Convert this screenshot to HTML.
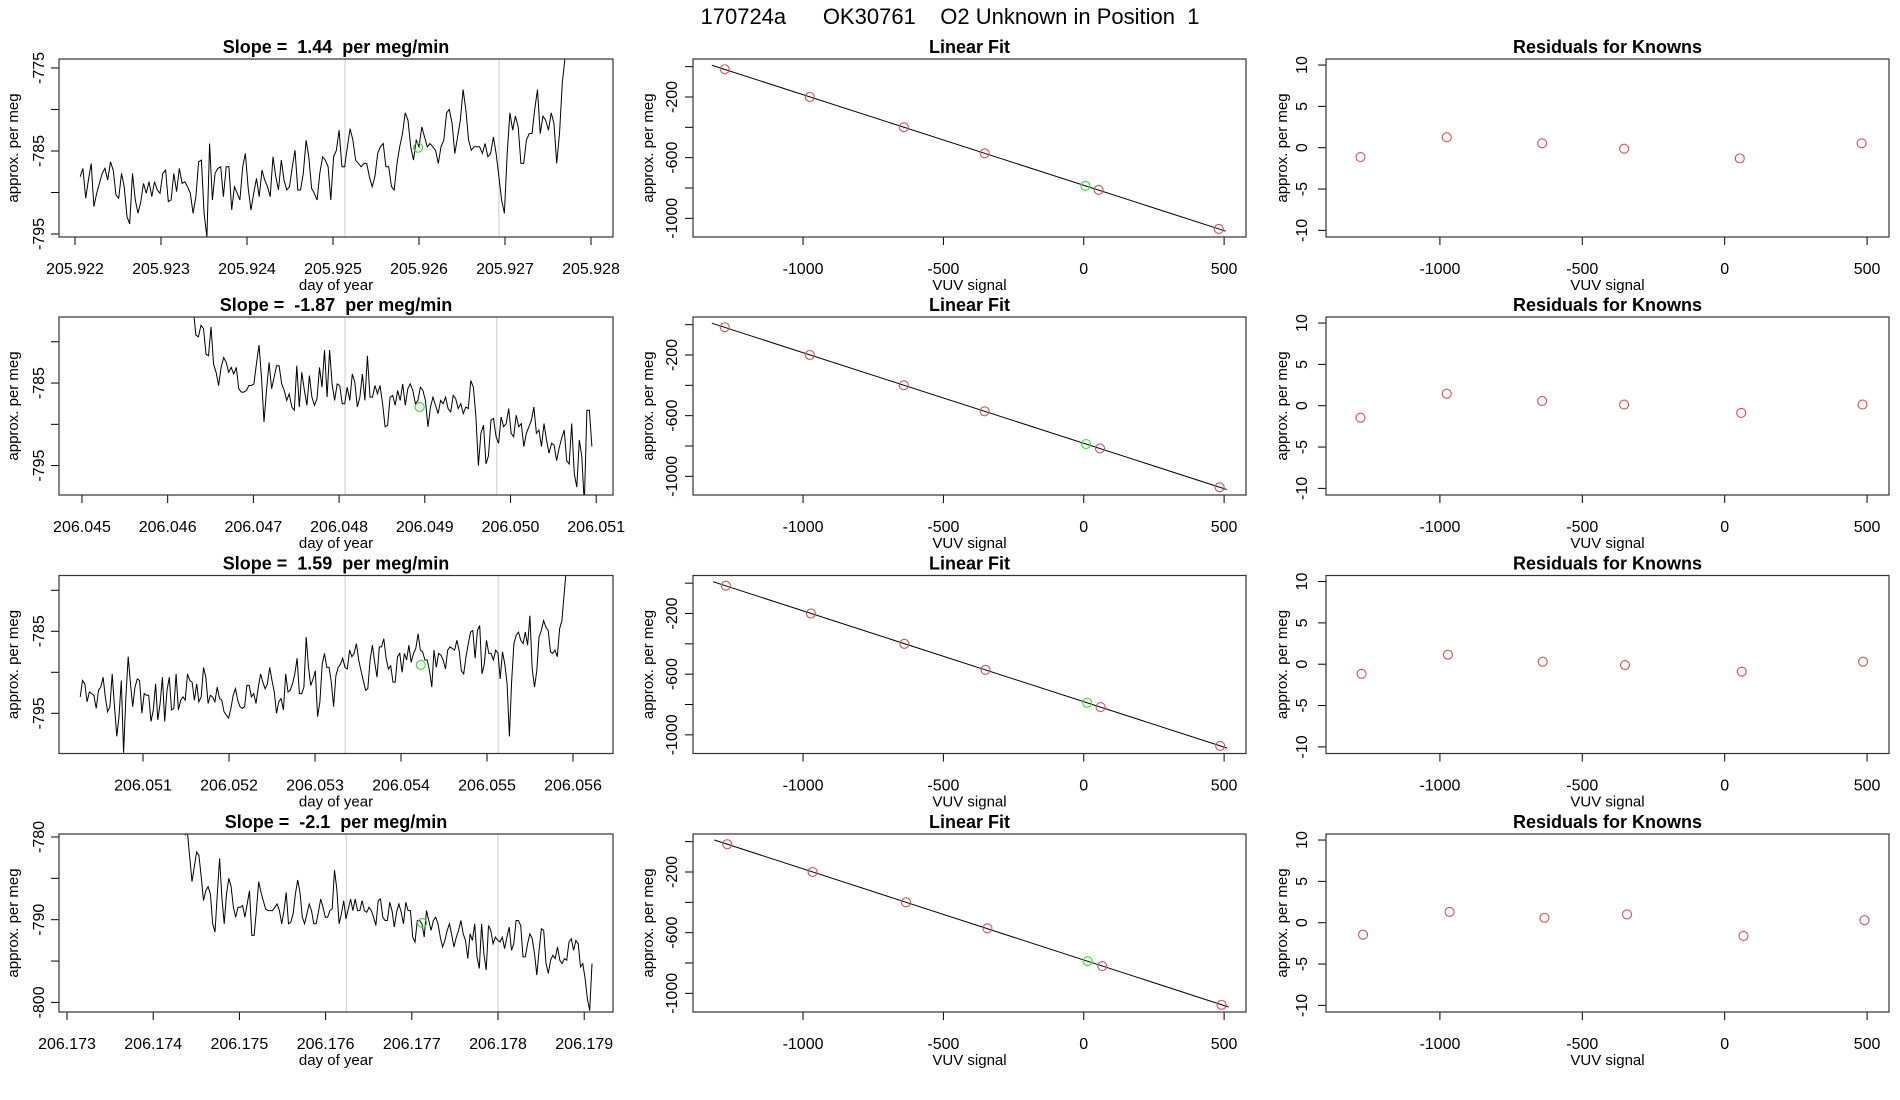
<!DOCTYPE html>
<html><head><meta charset="utf-8"><style>
html,body{margin:0;padding:0;background:#fff;}
svg{display:block;font-family:"Liberation Sans",Arial,sans-serif;}
svg text{white-space:pre;}
</style></head><body>
<svg id="fig" width="1900" height="1100" viewBox="0 0 1900 1100" xmlns="http://www.w3.org/2000/svg" xml:space="preserve">
<rect width="1900" height="1100" fill="#fff"/>
<text x="950" y="24" font-size="22" text-anchor="middle" xml:space="preserve">170724a      OK30761    O2 Unknown in Position  1</text>
</svg>
<script>
// ---------- data ----------
const slopes = ["1.44", "-1.87", "1.59", "-2.1"];
const seriesStart = [205.92206, 206.0463, 206.05027, 206.17437];
const seriesEnd = [205.92773, 206.05095, 206.05595, 206.17909];
const series1 = [-788.1,-787.1,-790.7,-788.5,-786.5,-791.7,-790.1,-788.9,-787.7,-787.1,-788.5,-786.3,-787.3,-790.3,-790.7,-787.7,-789.3,-792.9,-793.8,-787.7,-790.9,-792.5,-791.1,-788.9,-790.1,-788.7,-790.5,-788.7,-789.7,-790.1,-787.7,-787.3,-791.1,-790.9,-787.7,-789.9,-787.1,-788.9,-788.7,-789.3,-790.1,-792.5,-790.5,-786.3,-786.1,-792.5,-795.4,-784.1,-790.9,-787.7,-787.1,-786.9,-790.5,-786.9,-786.9,-792.1,-789.3,-790.1,-790.9,-786.9,-785.3,-789.5,-792.1,-790.1,-788.3,-790.5,-787.3,-788.5,-789.3,-790.5,-785.7,-788.1,-789.7,-786.1,-788.5,-789.7,-789.3,-786.9,-784.9,-789.7,-789.7,-787.7,-783.7,-785.7,-789.5,-790.1,-790.9,-787.7,-785.7,-786.1,-786.9,-790.9,-785.7,-784.9,-782.5,-786.9,-786.9,-784.5,-782.3,-783.7,-786.1,-786.5,-786.9,-786.5,-786.5,-788.1,-789.3,-788.1,-785.3,-784.5,-784.1,-786.9,-786.9,-789.3,-789.7,-786.5,-784.5,-782.9,-780.4,-781.3,-784.5,-786.1,-783.7,-784.5,-782.1,-783.3,-784.5,-784.1,-784.5,-784.9,-786.5,-784.5,-783.7,-780.4,-780,-781.7,-785.3,-783.3,-781.3,-777.6,-780,-783.7,-784.9,-784.5,-784.5,-784.5,-785.3,-784.1,-785.7,-785.3,-783.3,-785.3,-788.1,-790.9,-792.5,-785.3,-780.4,-782.5,-780.8,-782.1,-786.5,-786.5,-783.7,-782.9,-782.9,-780,-777.6,-782.9,-780.8,-781.3,-782.5,-780.4,-781.7,-786.5,-782.9,-776.8,-773.8,-770];
const series2 = [-776.2,-779.2,-779.4,-778.0,-778.4,-781.5,-781.7,-778.2,-782.7,-783.7,-785.3,-783.1,-781.9,-782.5,-783.7,-783.1,-783.9,-783.1,-785.7,-786.1,-786.1,-785.9,-785.3,-785.3,-785.1,-782.7,-780.4,-784.3,-789.7,-785.9,-782.5,-785.7,-784.3,-782.9,-782.9,-785.1,-785.9,-787.1,-786.3,-787.9,-788.3,-782.9,-787.9,-783.7,-785.9,-787.7,-784.1,-786.7,-787.7,-786.9,-783.1,-785.5,-781.0,-786.7,-781.0,-785.1,-787.1,-785.1,-785.3,-787.5,-787.5,-785.5,-787.1,-783.9,-784.9,-787.9,-786.7,-783.9,-787.1,-781.7,-786.7,-786.7,-785.3,-786.3,-785.3,-787.5,-790.3,-790.1,-786.7,-786.5,-787.7,-785.9,-787.1,-785.1,-787.7,-785.7,-785.1,-785.9,-787.5,-787.1,-785.5,-785.9,-787.1,-790.3,-787.9,-786.7,-787.7,-788.7,-787.1,-787.5,-786.7,-788.1,-788.5,-786.5,-786.9,-788.1,-787.5,-788.7,-787.9,-788.1,-784.7,-785.5,-789.1,-795.0,-791.1,-790.1,-794.8,-793.8,-789.5,-789.3,-791.5,-792.3,-789.1,-790.3,-789.9,-788.1,-791.1,-791.5,-788.9,-790.3,-789.9,-792.7,-791.1,-790.3,-789.5,-787.9,-791.1,-790.7,-792.7,-789.9,-791.9,-793.5,-792.3,-792.5,-794.4,-792.9,-791.7,-790.7,-794.4,-794.8,-789.9,-796.0,-797.6,-791.9,-793.9,-799.6,-788.3,-788.3,-792.7];
const series3 = [-793.0,-791.0,-791.4,-793.6,-792.4,-792.6,-792.8,-794.4,-792.2,-791.8,-790.6,-793.0,-794.8,-794.2,-790.2,-794.2,-797.8,-795.4,-791.0,-799.8,-793.0,-788.1,-791.4,-794.2,-791.8,-790.8,-791.0,-795.0,-792.6,-792.8,-792.8,-796.0,-794.6,-791.4,-795.8,-793.8,-790.6,-796.0,-792.2,-790.6,-794.6,-794.4,-790.2,-794.6,-793.4,-793.0,-793.4,-790.2,-791.0,-791.2,-793.4,-791.4,-793.6,-793.0,-789.4,-790.6,-793.8,-792.8,-793.0,-793.6,-791.8,-793.2,-793.4,-794.8,-795.2,-795.6,-794.4,-792.8,-792.0,-793.4,-794.2,-794.4,-794.2,-791.6,-791.6,-793.0,-792.6,-793.8,-791.8,-790.2,-791.2,-792.0,-791.4,-789.4,-791.0,-792.4,-795.0,-793.6,-793.2,-794.6,-790.2,-792.4,-792.2,-791.4,-790.2,-788.3,-792.6,-792.6,-791.8,-785.7,-789.4,-791.6,-790.8,-789.8,-795.4,-793.6,-789.0,-787.7,-789.4,-789.4,-791.2,-794.2,-790.4,-789.4,-789.0,-788.3,-789.4,-789.6,-787.3,-788.1,-787.7,-786.5,-788.5,-789.8,-791.0,-792.2,-792.0,-788.5,-786.7,-788.8,-790.6,-786.9,-786.9,-785.9,-788.3,-789.6,-789.2,-791.2,-791.2,-788.1,-787.7,-790.0,-787.7,-788.5,-786.7,-788.8,-787.7,-787.1,-785.3,-787.3,-787.5,-788.5,-788.5,-789.8,-791.8,-787.3,-789.4,-787.7,-787.9,-788.5,-789.6,-787.3,-786.9,-787.1,-787.3,-786.1,-787.3,-789.8,-790.2,-788.1,-786.5,-785.1,-784.9,-788.3,-784.9,-784.3,-790.2,-789.0,-786.1,-787.7,-787.7,-788.5,-787.3,-787.7,-790.8,-787.5,-789.0,-791.4,-797.8,-791.2,-786.5,-785.5,-785.1,-786.1,-786.5,-785.1,-786.7,-783.1,-789.6,-791.8,-789.8,-785.7,-784.9,-783.7,-784.5,-784.9,-787.5,-787.7,-787.3,-788.1,-784.7,-783.7,-780.5,-777.3,-774];
const series4 = [-779.8,-779.4,-782.4,-785.4,-783.6,-781.8,-782.2,-784.8,-787.7,-786.5,-786.0,-786.9,-790.5,-791.5,-786.9,-782.6,-787.3,-790.5,-786.9,-785.0,-786.0,-788.5,-789.7,-788.5,-788.5,-788.3,-789.7,-788.1,-786.5,-791.9,-791.9,-788.9,-785.4,-786.7,-787.7,-788.7,-788.9,-788.9,-788.9,-788.5,-788.1,-788.9,-790.5,-788.9,-786.7,-790.5,-790.3,-789.3,-786.9,-785.2,-786.7,-789.7,-790.5,-789.3,-788.1,-788.9,-790.5,-790.5,-789.1,-787.5,-788.5,-789.7,-789.7,-788.9,-788.7,-784.0,-786.3,-790.5,-789.3,-787.7,-789.9,-788.7,-787.5,-788.9,-787.5,-788.9,-788.9,-787.7,-788.9,-789.1,-788.5,-788.9,-789.7,-790.7,-787.7,-787.5,-789.7,-790.1,-790.1,-787.9,-788.9,-790.9,-789.1,-788.1,-789.1,-790.5,-787.9,-788.9,-788.9,-792.1,-792.7,-790.1,-790.1,-790.5,-792.1,-788.9,-790.1,-791.3,-790.1,-789.7,-790.5,-792.1,-793.3,-792.5,-791.3,-790.5,-791.9,-793.3,-792.1,-791.3,-790.1,-791.7,-792.5,-794.7,-791.7,-792.5,-790.5,-794.5,-795.9,-790.5,-794.1,-796.1,-790.7,-791.3,-792.9,-792.1,-792.5,-792.7,-792.1,-793.5,-792.1,-790.9,-793.7,-792.9,-790.1,-790.1,-790.7,-794.5,-794.5,-792.9,-791.7,-792.3,-794.1,-796.7,-793.7,-791.1,-791.3,-795.3,-796.5,-794.9,-794.3,-794.7,-793.3,-794.9,-795.3,-794.7,-794.9,-792.7,-792.3,-793.7,-792.5,-792.9,-795.7,-795.3,-797.1,-799.6,-801.0,-795.3];
const allSeries = [series1, series2, series3, series4];
const timeTickLabels = [
  ["205.922","205.923","205.924","205.925","205.926","205.927","205.928"],
  ["206.045","206.046","206.047","206.048","206.049","206.050","206.051"],
  ["206.051","206.052","206.053","206.054","206.055","206.056"],
  ["206.173","206.174","206.175","206.176","206.177","206.178","206.179"]];
const valueTicks = [[-795,-790,-785,-780,-775],[-795,-790,-785,-780],[-795,-790,-785,-780],[-800,-795,-790,-785,-780]];
const valueTickLabels = [["-795","","-785","","-775"],["-795","","-785",""],["-795","","-785",""],["-800","","-790","","-780"]];
const grayLines = [[205.92514,205.92693],[206.04807,206.04984],[206.05335,206.05513],[206.17624,206.178]];
const greenTime = [205.92599, 206.04894, 206.05423, 206.17712];
const greenValue = [-784.6, -787.9, -789.1, -790.4];
// linear fit panels
const vuvSignal = [[-1279,-976,-641,-353,53,481],[-1279,-976,-641,-353,58,484],[-1275,-972,-639,-350,60,486],[-1270,-966,-633,-343,66,491]];
const knownValue = [[-17,-200,-400,-571,-813,-1070],[-17,-200,-400,-571,-816,-1072],[-17,-200,-400,-571,-817,-1073],[-17,-200,-400,-571,-820,-1076]];
const unknownVUV = [6, 8, 12, 14];
const residuals = [[-1.13,1.26,0.53,-0.12,-1.29,0.53],[-1.45,1.45,0.58,0.14,-0.87,0.14],[-1.16,1.16,0.3,-0.1,-0.9,0.3],[-1.45,1.3,0.6,1.0,-1.6,0.3]];
const vuvTicks = [-1000,-500,0,500];
const fitYTicks = [0,-200,-400,-600,-800,-1000];
const fitYTickLabels = ["","-200","","-600","","-1000"];
const resTicks = [10,5,0,-5,-10];

// ---------- layout ----------
const NS = "http://www.w3.org/2000/svg";
const svg = document.getElementById("fig");
const rowTops = [59, 317, 575.5, 834];
const BOXH = 178;
const timeDomains = [[205.921814,205.928256],[206.044732,206.051196],[206.050023,206.056465],[206.172907,206.179334]];
const valueDomains = [[-795.36,-773.92],[-798.56,-777.0],[-799.9,-778.2],[-801.16,-779.64]];
const timeTickStart = [205.922, 206.045, 206.051, 206.173];

function el(tag, attrs, parent, text) {
  const e = document.createElementNS(NS, tag);
  for (const k in attrs) e.setAttribute(k, attrs[k]);
  if (text !== undefined) e.textContent = text;
  (parent || svg).appendChild(e);
  return e;
}
function lin(d0, d1, r0, r1) { return v => r0 + (v - d0) / (d1 - d0) * (r1 - r0); }

function panel(g, x0, x1, top, sx, sy, xt, xtl, yt, ytl, ylabX, ytitleX, title, xtitle, r) {
  const bottom = top + BOXH;
  const t = el("text", {x: (x0+x1)/2, y: top-6, "font-size": 18, "font-weight": "bold", "text-anchor": "middle"}, g, title);
  
  
  const ax = el("g", {}, g);
  
  
  const pxs = xt.map(sx);
  el("line", {x1: pxs[0], x2: pxs[pxs.length-1], y1: bottom, y2: bottom, stroke: "#000"}, ax);
  xt.forEach((v, i) => {
    const p = sx(v);
    el("line", {x1: p, x2: p, y1: bottom, y2: bottom+8, stroke: "#000"}, ax);
    const tl = el("text", {x: p, y: bottom+37, "font-size": 16, "text-anchor": "middle"}, ax, xtl[i]);
    
    
  });
  const xtt = el("text", {x: (x0+x1)/2, y: bottom+53, "font-size": 15, "text-anchor": "middle"}, g, xtitle);
  
  
  const ay = el("g", {}, g);
  
  
  const pys = yt.map(sy);
  el("line", {x1: x0, x2: x0, y1: pys[0], y2: pys[pys.length-1], stroke: "#000"}, ay);
  yt.forEach((v, i) => {
    const p = sy(v);
    el("line", {x1: x0, x2: x0-8, y1: p, y2: p, stroke: "#000"}, ay);
    if (ytl[i] !== "") {
      const yl = el("text", {x: ylabX, y: p, "font-size": 16, "text-anchor": "middle", transform: `rotate(-90 ${ylabX} ${p})`}, ay, ytl[i]);
      
      
    }
  });
  const ytt = el("text", {x: ytitleX, y: top+BOXH/2, "font-size": 15, "text-anchor": "middle", transform: `rotate(-90 ${ytitleX} ${top+BOXH/2})`}, g, "approx. per meg");
  
  
  const cp = el("clipPath", {id: "clip" + r + "_" + x0}, g);
  el("rect", {x: x0, y: top, width: x1-x0, height: BOXH}, cp);
  return "url(#clip" + r + "_" + x0 + ")";
}

for (let r = 0; r < 4; r++) {
  const top = rowTops[r], bottom = top + BOXH;
  // ---- left: time series ----
  const gL = el("g", {});
  
  
  const sx = lin(timeDomains[r][0], timeDomains[r][1], 59, 613);
  const sy = lin(valueDomains[r][0], valueDomains[r][1], bottom, top);
  const xt = timeTickLabels[r].map((s, i) => timeTickStart[r] + i*0.001);
  const clip = panel(gL, 59, 613, top, sx, sy, xt, timeTickLabels[r], valueTicks[r], valueTickLabels[r], 44, 18,
    "Slope =  " + slopes[r] + "  per meg/min", "day of year", r);
  grayLines[r].forEach(tv => {
    const gl = el("line", {x1: sx(tv), x2: sx(tv), y1: top, y2: bottom, stroke: "#d3d3d3", "stroke-width": 1.2}, gL);
    
    
  });
  const s = allSeries[r];
  const dt = (seriesEnd[r] - seriesStart[r]) / (s.length - 1);
  const pts = s.map((v, i) => sx(seriesStart[r] + i*dt).toFixed(1) + "," + sy(v).toFixed(1)).join(" ");
  const pl = el("polyline", {points: pts, fill: "none", stroke: "#000", "stroke-width": 1, "clip-path": clip}, gL);
  
  
  const gc = el("circle", {cx: sx(greenTime[r]), cy: sy(greenValue[r]), r: 4.5, fill: "none", stroke: "#3ee03e", "stroke-width": 1.2}, gL);
  
  
  const b1 = el("rect", {x: 59, y: top, width: 554, height: BOXH, fill: "none", stroke: "#333", "stroke-width": 1.2}, gL);
  
  

  // ---- middle: linear fit ----
  const gM = el("g", {});
  
  
  const mx = lin(-1392, 578, 693, 1246);
  const my = lin(-1123, 50.5, bottom, top);
  panel(gM, 693, 1246, top, mx, my, vuvTicks, vuvTicks.map(String), fitYTicks, fitYTickLabels, 677, 653, "Linear Fit", "VUV signal", r);
  const xs = vuvSignal[r], ys = knownValue[r];
  const n = xs.length;
  const mxv = xs.reduce((a,b)=>a+b)/n, myv = ys.reduce((a,b)=>a+b)/n;
  let sxy = 0, sxx = 0;
  for (let i = 0; i < n; i++) { sxy += (xs[i]-mxv)*(ys[i]-myv); sxx += (xs[i]-mxv)**2; }
  const slope = sxy/sxx, icpt = myv - slope*mxv;
  const xa = Math.min(...xs) - 46, xb = Math.max(...xs) + 25;
  const fl = el("line", {x1: mx(xa), y1: my(icpt+slope*xa), x2: mx(xb), y2: my(icpt+slope*xb), stroke: "#000", "stroke-width": 1}, gM);
  
  
  xs.forEach((x, i) => {
    const c = el("circle", {cx: mx(x), cy: my(ys[i]), r: 4.5, fill: "none", stroke: "#d0505a", "stroke-width": 1.1}, gM);
    
    
  });
  const ux = unknownVUV[r];
  const uc = el("circle", {cx: mx(ux), cy: my(icpt+slope*ux), r: 4.5, fill: "none", stroke: "#3ee03e", "stroke-width": 1.2}, gM);
  
  
  const b2 = el("rect", {x: 693, y: top, width: 553, height: BOXH, fill: "none", stroke: "#333", "stroke-width": 1.2}, gM);
  
  

  // ---- right: residuals ----
  const gR = el("g", {});
  
  
  const rx = lin(-1400, 577, 1326, 1889);
  const ry = lin(-10.8, 10.73, bottom, top);
  panel(gR, 1326, 1889, top, rx, ry, vuvTicks, vuvTicks.map(String), resTicks, resTicks.map(String), 1307, 1287, "Residuals for Knowns", "VUV signal", r);
  residuals[r].forEach((v, i) => {
    const c = el("circle", {cx: rx(xs[i]), cy: ry(v), r: 4.5, fill: "none", stroke: "#d0505a", "stroke-width": 1.1}, gR);
    
    
  });
  const b3 = el("rect", {x: 1326, y: top, width: 563, height: BOXH, fill: "none", stroke: "#333", "stroke-width": 1.2}, gR);
  
  
}
</script>
</body></html>
